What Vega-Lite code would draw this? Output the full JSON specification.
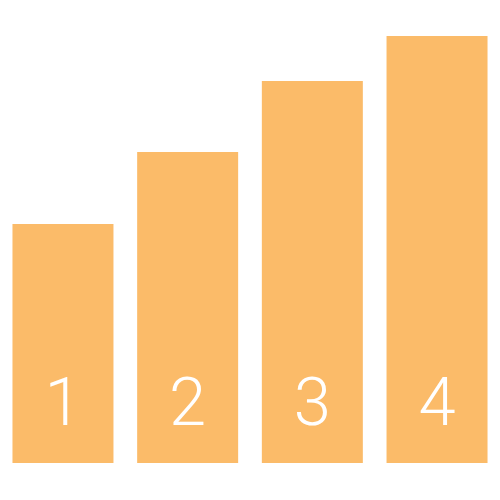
{
  "$schema": "https://vega.github.io/schema/vega-lite/v6.json",
  "width": 500,
  "height": 500,
  "autosize": {"type": "fit", "contains": "padding"},
  "padding": 0,
  "background": "white",
  "view": {"stroke": null},
  "data": {"values": [
    {"label": "1", "value": 239},
    {"label": "2", "value": 311},
    {"label": "3", "value": 382},
    {"label": "4", "value": 427}
  ]},
  "encoding": {
    "x": {"field": "label", "type": "nominal", "axis": null, "sort": null,
          "scale": {"paddingInner": 0.19, "paddingOuter": 0.1}}
  },
  "layer": [
    {
      "mark": {"type": "bar", "color": "#fbbb69"},
      "encoding": {
        "y": {"field": "value", "type": "quantitative", "axis": null,
              "scale": {"domain": [-37, 463], "nice": false, "zero": false}}
      }
    },
    {
      "mark": {"type": "text", "color": "white", "font": "Roboto", "fontWeight": 300, "fontSize": 67, "baseline": "alphabetic", "align": "center"},
      "encoding": {
        "y": {"datum": 38, "type": "quantitative"},
        "text": {"field": "label"}
      }
    }
  ]
}
